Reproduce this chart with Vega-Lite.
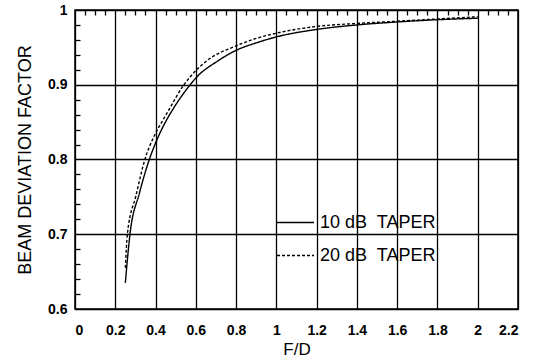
{
  "$schema": "https://vega.github.io/schema/vega-lite/v6.json",
  "width": 443,
  "height": 299,
  "autosize": {"type": "none"},
  "padding": {"left": 75, "top": 10, "right": 24, "bottom": 50},
  "background": "white",
  "config": {
    "font": "Liberation Sans",
    "view": {"stroke": "black", "strokeWidth": 1.5},
    "axis": {
      "domain": false,
      "grid": true,
      "gridColor": "black",
      "gridWidth": 1.3,
      "gridOpacity": 1,
      "ticks": false,
      "tickCount": 100,
      "labelColor": "black",
      "titleColor": "black",
      "labelFont": "Liberation Sans",
      "labelFontWeight": "bold",
      "labelFontSize": 14,
      "titleFont": "Liberation Sans",
      "titleFontWeight": "normal",
      "labelOverlap": false
    }
  },
  "data": {
    "values": [
      {"fd": 0.25, "f": 0.635, "s": "10 dB\u00a0 TAPER"},
      {"fd": 0.273, "f": 0.70, "s": "10 dB\u00a0 TAPER"},
      {"fd": 0.32, "f": 0.755, "s": "10 dB\u00a0 TAPER"},
      {"fd": 0.369, "f": 0.80, "s": "10 dB\u00a0 TAPER"},
      {"fd": 0.40, "f": 0.822, "s": "10 dB\u00a0 TAPER"},
      {"fd": 0.455, "f": 0.853, "s": "10 dB\u00a0 TAPER"},
      {"fd": 0.488, "f": 0.868, "s": "10 dB\u00a0 TAPER"},
      {"fd": 0.572, "f": 0.90, "s": "10 dB\u00a0 TAPER"},
      {"fd": 0.60, "f": 0.909, "s": "10 dB\u00a0 TAPER"},
      {"fd": 0.71, "f": 0.932, "s": "10 dB\u00a0 TAPER"},
      {"fd": 0.80, "f": 0.946, "s": "10 dB\u00a0 TAPER"},
      {"fd": 0.90, "f": 0.956, "s": "10 dB\u00a0 TAPER"},
      {"fd": 1.00, "f": 0.964, "s": "10 dB\u00a0 TAPER"},
      {"fd": 1.20, "f": 0.974, "s": "10 dB\u00a0 TAPER"},
      {"fd": 1.40, "f": 0.980, "s": "10 dB\u00a0 TAPER"},
      {"fd": 1.60, "f": 0.984, "s": "10 dB\u00a0 TAPER"},
      {"fd": 1.80, "f": 0.987, "s": "10 dB\u00a0 TAPER"},
      {"fd": 2.00, "f": 0.989, "s": "10 dB\u00a0 TAPER"},
      {"fd": 0.25, "f": 0.655, "s": "20 dB\u00a0 TAPER"},
      {"fd": 0.26, "f": 0.70, "s": "20 dB\u00a0 TAPER"},
      {"fd": 0.303, "f": 0.752, "s": "20 dB\u00a0 TAPER"},
      {"fd": 0.347, "f": 0.80, "s": "20 dB\u00a0 TAPER"},
      {"fd": 0.40, "f": 0.835, "s": "20 dB\u00a0 TAPER"},
      {"fd": 0.435, "f": 0.852, "s": "20 dB\u00a0 TAPER"},
      {"fd": 0.463, "f": 0.865, "s": "20 dB\u00a0 TAPER"},
      {"fd": 0.541, "f": 0.90, "s": "20 dB\u00a0 TAPER"},
      {"fd": 0.60, "f": 0.919, "s": "20 dB\u00a0 TAPER"},
      {"fd": 0.654, "f": 0.932, "s": "20 dB\u00a0 TAPER"},
      {"fd": 0.80, "f": 0.952, "s": "20 dB\u00a0 TAPER"},
      {"fd": 0.90, "f": 0.962, "s": "20 dB\u00a0 TAPER"},
      {"fd": 1.00, "f": 0.969, "s": "20 dB\u00a0 TAPER"},
      {"fd": 1.20, "f": 0.978, "s": "20 dB\u00a0 TAPER"},
      {"fd": 1.40, "f": 0.982, "s": "20 dB\u00a0 TAPER"},
      {"fd": 1.60, "f": 0.985, "s": "20 dB\u00a0 TAPER"},
      {"fd": 1.80, "f": 0.988, "s": "20 dB\u00a0 TAPER"},
      {"fd": 2.00, "f": 0.991, "s": "20 dB\u00a0 TAPER"}
    ]
  },
  "mark": {"type": "line", "interpolate": "monotone", "color": "black", "strokeWidth": 1.4, "clip": true},
  "encoding": {
    "x": {
      "field": "fd", "type": "quantitative",
      "scale": {"domain": [0, 2.2], "nice": false, "zero": false},
      "axis": {
        "title": "F/D",
        "titleFontSize": 17,
        "titlePadding": 4,
        "tickCount": 100,
        "values": [0,0.05,0.1,0.15,0.2,0.25,0.3,0.35,0.4,0.45,0.5,0.55,0.6,0.65,0.7,0.75,0.8,0.85,0.9,0.95,1,1.05,1.1,1.15,1.2,1.25,1.3,1.35,1.4,1.45,1.5,1.55,1.6,1.65,1.7,1.75,1.8,1.85,1.9,1.95,2,2.05,2.1,2.15,2.2],
        "labelPadding": 14,
        "labelExpr": "abs(datum.value/0.2 - round(datum.value/0.2)) < 1e-6 ? format(datum.value, '.1~f') : ''",
        "gridDash": {"condition": {"test": "abs(datum.value/0.2 - round(datum.value/0.2)) < 1e-6", "value": [1, 0]}, "value": [5, 1000]}
      }
    },
    "y": {
      "field": "f", "type": "quantitative",
      "scale": {"domain": [0.6, 1], "nice": false, "zero": false},
      "axis": {
        "title": "BEAM DEVIATION FACTOR",
        "titleFontSize": 18,
        "titlePadding": 13,
        "tickCount": 100,
        "values": [0.6,0.62,0.64,0.66,0.68,0.7,0.72,0.74,0.76,0.78,0.8,0.82,0.84,0.86,0.88,0.9,0.92,0.94,0.96,0.98,1],
        "labelPadding": 8,
        "labelExpr": "abs(datum.value*10 - round(datum.value*10)) < 1e-6 ? format(datum.value, '.1~f') : ''",
        "gridDash": {"condition": {"test": "abs(datum.value*10 - round(datum.value*10)) < 1e-6", "value": [1, 0]}, "value": [5, 1000]}
      }
    },
    "strokeDash": {
      "field": "s", "type": "nominal",
      "scale": {"domain": ["10 dB\u00a0 TAPER", "20 dB\u00a0 TAPER"], "range": [[1, 0], [3, 2]]},
      "legend": {
        "title": null,
        "orient": "none",
        "legendX": 201,
        "legendY": 193,
        "symbolType": "stroke",
        "symbolSize": 1369,
        "symbolStrokeWidth": 1.5,
        "symbolStrokeColor": "black",
        "labelFont": "Liberation Sans",
        "labelFontSize": 18,
        "labelColor": "black",
        "labelOffset": 5,
        "rowPadding": 4
      }
    }
  }
}
